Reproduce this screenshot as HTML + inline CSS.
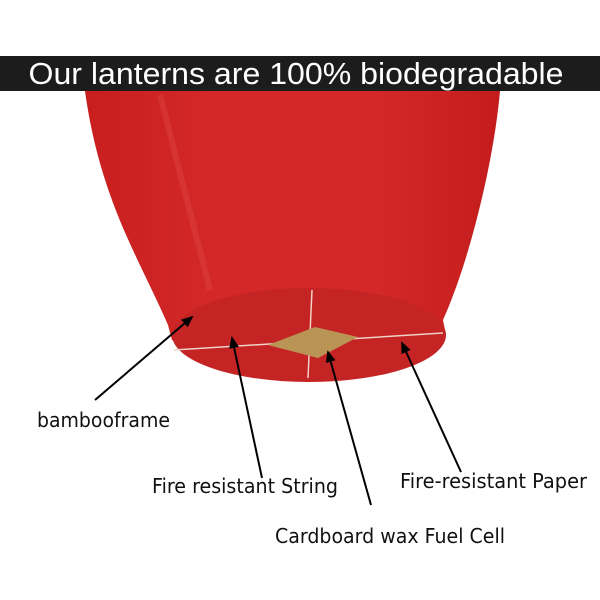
<!DOCTYPE html>
<html><head><style>
html,body{margin:0;padding:0;background:#fff;}
svg{display:block;}
</style></head><body>
<svg width="600" height="600" viewBox="0 0 600 600" xmlns="http://www.w3.org/2000/svg">
<defs>
<linearGradient id="body" x1="0" x2="1" y1="0" y2="0">
<stop offset="0" stop-color="#c81e1e"/><stop offset="0.3" stop-color="#d42828"/><stop offset="0.7" stop-color="#d42828"/><stop offset="1" stop-color="#c41c1c"/>
</linearGradient>
<marker id="ah" markerWidth="12" markerHeight="10" refX="10" refY="5" orient="auto" markerUnits="userSpaceOnUse"><path d="M0,0 L12,5 L0,10 z" fill="#000"/></marker>
</defs>
<rect x="0" y="56" width="600" height="35" fill="#1c1c1c"/>
<text x="296" y="84" text-anchor="middle" font-family="Liberation Sans, sans-serif" font-size="31" fill="#fff" textLength="535" lengthAdjust="spacingAndGlyphs">Our lanterns are 100% biodegradable</text>
<path d="M85,91 L500,91 C494,160 470,260 443,320 L446,335 C430,370 240,385 172,340 L168,325 C140,260 100,200 85,91 z" fill="url(#body)"/>
<path d="M160,95 L210,290" stroke="#e04848" stroke-width="6" opacity="0.4"/>
<ellipse cx="309" cy="335" rx="137" ry="47" fill="#c42424"/>
<path d="M174,350 L443,333" stroke="#f0d0c8" stroke-width="1.5"/>
<path d="M312,290 L308,378" stroke="#f0d0c8" stroke-width="1.5"/>
<path d="M268,345 L315,327 L358,337 L318,358 z" fill="#b99455"/>
<path d="M95,400 L192,317" stroke="#000" stroke-width="2" marker-end="url(#ah)"/>
<path d="M262,478 L232,338" stroke="#000" stroke-width="2" marker-end="url(#ah)"/>
<path d="M371,505 L328,352" stroke="#000" stroke-width="2" marker-end="url(#ah)"/>
<path d="M461,472 L402,343" stroke="#000" stroke-width="2" marker-end="url(#ah)"/>
<g font-family="DejaVu Sans, sans-serif" font-size="20" fill="#111">
<text x="37" y="427" textLength="133" lengthAdjust="spacingAndGlyphs">bambooframe</text>
<text x="152" y="493" textLength="186" lengthAdjust="spacingAndGlyphs">Fire resistant String</text>
<text x="400" y="488" textLength="187" lengthAdjust="spacingAndGlyphs">Fire-resistant Paper</text>
<text x="275" y="543" textLength="230" lengthAdjust="spacingAndGlyphs">Cardboard wax Fuel Cell</text>
</g>
</svg>
</body></html>
